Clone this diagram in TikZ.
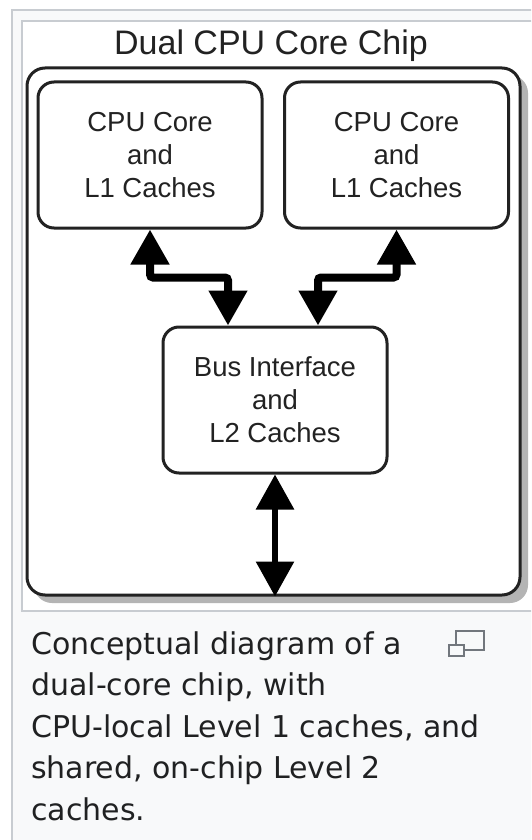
\documentclass[tikz,border=0pt]{standalone}
\usepackage{fontspec}
\setmainfont{Liberation Sans}
\newfontfamily\captionfont{DejaVu Sans}
\usetikzlibrary{arrows.meta, positioning, calc}
\definecolor{inkDark}{HTML}{222222}
\definecolor{frameGray}{HTML}{C8CCD1}
\definecolor{paperGray}{HTML}{F8F9FA}
\definecolor{shadowGray}{HTML}{B4B4B4}
\definecolor{captionInk}{HTML}{202122}
\definecolor{iconGray}{HTML}{72777D}
\tikzset{
  unitbox/.style={draw=inkDark, line width=3pt, rounded corners=16pt, fill=white,
                  minimum width=224pt, minimum height=146pt, inner sep=0pt,
                  align=center, text=inkDark, font=\fontsize{27.5}{33}\selectfont},
  busarrow/.style={{Triangle[length=35pt,width=37pt]}-{Triangle[length=35pt,width=37pt]},
                   line width=#1, draw=black, rounded corners=3pt},
}
\begin{document}
\begin{tikzpicture}[x=1pt, y=-1pt]
\useasboundingbox (0,0) rectangle (531,840);
\clip (0,0) rectangle (531,840);
\fill[white] (0,0) rectangle (531,840);
\draw[frameGray, fill=paperGray, line width=1.5pt] (12,10) rectangle (560,870);
\draw[frameGray, fill=white, line width=1.5pt] (22,21) rectangle (550,611);
\fill[shadowGray, rounded corners=18pt] (34,75) rectangle (528,603);
\node[draw=inkDark, line width=3pt, rounded corners=18pt, fill=white, inner sep=0pt,
      minimum width=493pt, minimum height=527pt] (chip) at (273.5,331.5) {};
\node[text=inkDark, font=\fontsize{34}{40}\selectfont] (title) at (271,46) {Dual CPU Core Chip};
\node[unitbox] (coreA) at (150,155) {CPU Core\\and\\L1 Caches};
\node[unitbox] (coreB) at (396.5,155) {CPU Core\\and\\L1 Caches};
\node[unitbox] (bus) at (275,400) {Bus Interface\\and\\L2 Caches};
\coordinate (busInA) at ($(bus.north)+(-47,0)$);
\coordinate (busInB) at ($(bus.north)+(43,0)$);
\draw[busarrow=8pt] (coreA.south) |- ($(coreA.south)!0.5!(busInA)$) -| (busInA);
\draw[busarrow=8pt] (coreB.south) |- ($(coreB.south)!0.5!(busInB)$) -| (busInB);
\draw[busarrow=6pt] (bus.south) -- (chip.south -| bus.south);
\node[anchor=north west, inner sep=0pt, align=left, text=captionInk,
      font=\captionfont\fontsize{30}{41.5}\selectfont] (caption) at (31,631)
  {Conceptual diagram of a\\dual-core chip, with\\CPU-local Level 1 caches, and\\shared, on-chip Level 2\\caches.};
\draw[iconGray, line width=2pt] (456,631) rectangle (484,650);
\draw[iconGray, line width=2pt, fill=paperGray] (449,645) rectangle (464,656);
\end{tikzpicture}
\end{document}
